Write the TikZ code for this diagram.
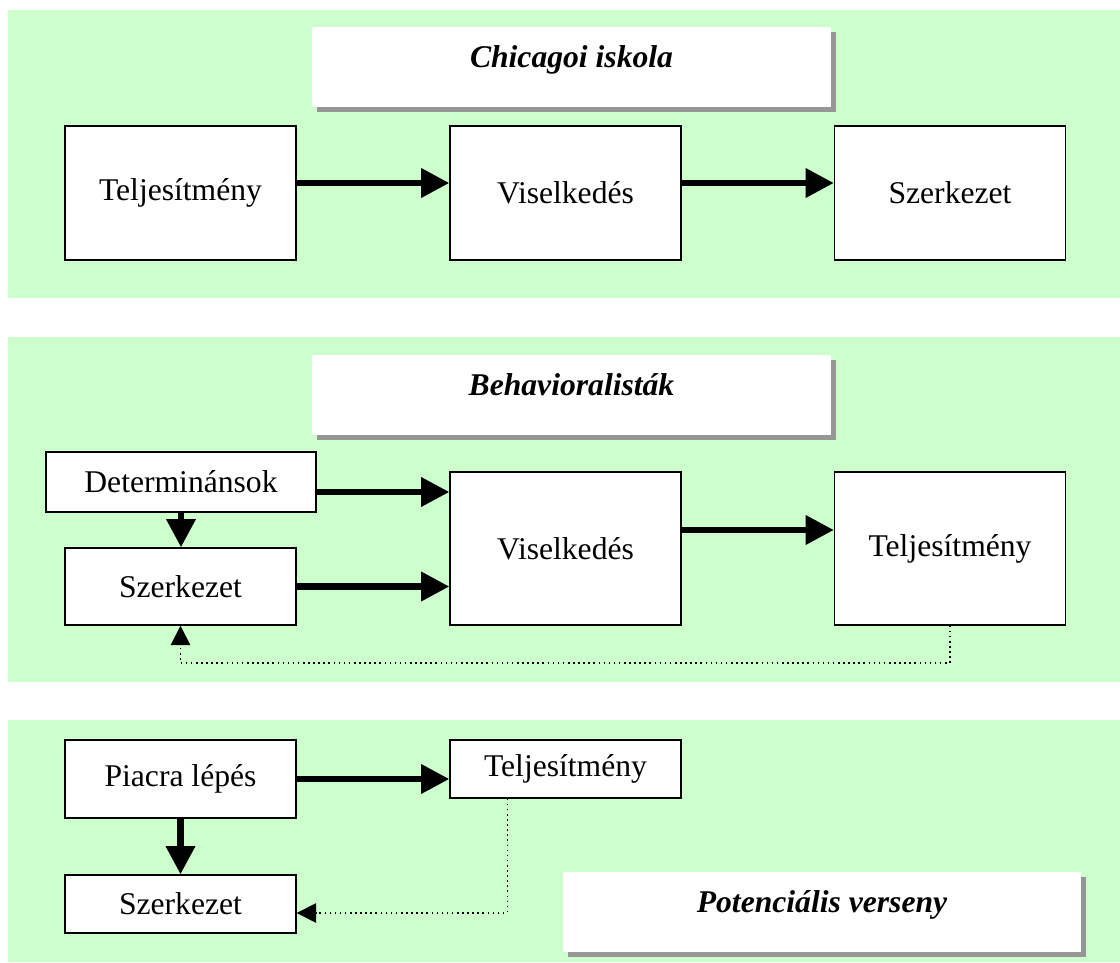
\documentclass[tikz,border=0pt]{standalone}
\usepackage{fontspec}
\setmainfont{Liberation Serif}
\usetikzlibrary{arrows.meta,shadows}
\definecolor{panelgreen}{RGB}{204, 255, 204}
\definecolor{shadowgray}{RGB}{150, 150, 150}

\tikzset{
  box/.style={draw, fill=white, line width=0.8pt, inner sep=0pt, minimum width=4.62cm},
  titlebox/.style={fill=white, inner sep=0pt, minimum width=10.38cm, minimum height=1.6cm,
    text depth=0.42cm, font=\fontsize{18}{21}\selectfont\bfseries\itshape,
    drop shadow={shadow xshift=0.1cm, shadow yshift=-0.1cm, fill=shadowgray, opacity=1}},
  flow/.style={line width=3.5pt, -{Triangle[length=16pt,width=16pt]}},
  feedback/.style={dotted, line width=0.9pt, -{Triangle[length=11pt,width=11pt]}}
}

\begin{document}
\begin{tikzpicture}[x=0.02cm, y=-0.02cm, font=\fontsize{18}{21}\selectfont]
\useasboundingbox (0,0) rectangle (1120,963);

% Panels
\fill[panelgreen] (8,10) rectangle (1120,298);
\fill[panelgreen] (8,337) rectangle (1120,682);
\fill[panelgreen] (8,720) rectangle (1120,962);

% Chicagoi iskola
\node[titlebox] (chTitle) at (571.5,67) {Chicagoi iskola};
\node[box, minimum height=2.68cm] (chTelj) at (180.5,193) {Teljesítmény};
\node[box, minimum height=2.68cm] (chVis) at (565.5,193) {Viselkedés};
\node[box, minimum height=2.68cm] (chSzerk) at (950,193) {Szerkezet};
\draw[flow] ([yshift=0.2cm]chTelj.east) -- ([yshift=0.2cm]chVis.west);
\draw[flow] ([yshift=0.2cm]chVis.east) -- ([yshift=0.2cm]chSzerk.west);

% Behavioralistak
\node[titlebox] (beTitle) at (571.5,395) {Behavioralisták};
\node[box, minimum width=5.4cm, minimum height=1.2cm] (beDet) at (181,482) {Determinánsok};
\node[box, minimum height=1.54cm] (beSzerk) at (180.5,586.5) {Szerkezet};
\node[box, minimum height=3.06cm] (beVis) at (565.5,548.5) {Viselkedés};
\node[box, minimum height=3.06cm] (beTelj) at (950,548.5) {Teljesítmény};
\draw[flow] ([yshift=-0.2cm]beDet.east) -- ([yshift=-0.2cm]beDet.east -| beVis.west);
\draw[flow] (beSzerk.east) -- (beSzerk.east -| beVis.west);
\draw[flow] ([yshift=0.37cm]beVis.east) -- ([yshift=0.37cm]beTelj.west);
\draw[flow] (beDet.south) -- (beDet.south |- beSzerk.north);
\coordinate (beBack) at (0,663);
\draw[feedback] (beTelj.south) -- (beTelj.south |- beBack) -| (beSzerk.south);

% Potencialis verseny
\node[titlebox] (poTitle) at (822,912) {Potenciális verseny};
\node[box, minimum height=1.56cm] (poPiac) at (180.5,779) {Piacra lépés};
\node[box, minimum height=1.16cm] (poTelj) at (565.5,769) {Teljesítmény};
\node[box, minimum height=1.16cm] (poSzerk) at (180.5,904) {Szerkezet};
\draw[flow] (poPiac.east) -- (poPiac.east -| poTelj.west);
\draw[flow] (poPiac.south) -- (poPiac.south |- poSzerk.north);
\draw[feedback] ([xshift=1.16cm]poTelj.south west) |- ([yshift=-0.18cm]poSzerk.east);
\end{tikzpicture}
\end{document}
